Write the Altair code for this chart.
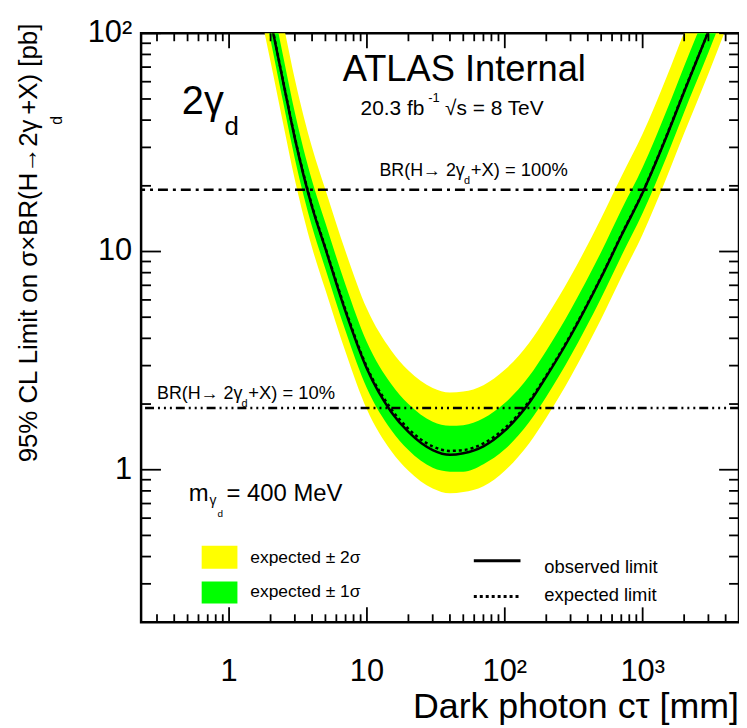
import altair as alt
import pandas as pd

# ---- data ----
ctau = [1.8, 2, 2.5, 3, 4, 5, 7, 10, 15, 20, 30, 40, 50, 70, 100, 150, 200, 300, 500, 700, 1000, 1500, 2000, 3000, 4000, 5000]
observed = [158, 115, 57.5, 33, 16, 10.3, 5.3, 2.9, 1.84, 1.49, 1.23, 1.17, 1.19, 1.28, 1.51, 2.02, 2.67, 4.1, 7.6, 11.8, 18.6, 34, 54, 102, 162, 232]
expected = [160, 116, 58, 33.3, 16.2, 10.4, 5.4, 2.95, 1.9, 1.54, 1.28, 1.22, 1.23, 1.32, 1.55, 2.06, 2.7, 4.15, 7.65, 11.9, 18.7, 34.3, 54.4, 102, 163, 232]
minus2 = [102, 74, 37, 21.3, 10.4, 6.66, 3.46, 1.89, 1.22, 0.99, 0.82, 0.78, 0.79, 0.84, 0.99, 1.32, 1.73, 2.66, 4.90, 7.62, 12.0, 22.0, 34.8, 65.3, 104, 148]
plus2 = [296, 215, 107, 61.6, 30.0, 19.2, 10.0, 5.46, 3.52, 2.85, 2.37, 2.26, 2.28, 2.44, 2.87, 3.81, 5.0, 7.68, 14.2, 22.0, 34.6, 63.5, 101, 189, 302, 429]
minus1 = [128, 93, 46.4, 26.6, 13.0, 8.32, 4.32, 2.36, 1.52, 1.23, 1.02, 0.98, 0.98, 1.06, 1.24, 1.65, 2.16, 3.32, 6.12, 9.52, 15.0, 27.4, 43.5, 81.6, 130, 186]
plus1 = [208, 151, 75.4, 43.3, 21.1, 13.5, 7.02, 3.84, 2.47, 2.0, 1.66, 1.59, 1.60, 1.72, 2.02, 2.68, 3.51, 5.40, 9.95, 15.5, 24.3, 44.6, 70.7, 133, 212, 302]

br_100 = [19.2]
br_10 = [1.92]

x_major = [1, 10, 100, 1000]
x_labels = ["1", "10", "10²", "10³"]
y_major = [1, 10, 100]
y_labels = ["1", "10", "10²"]
x_minor = [m * 10.0 ** e for e in range(-1, 4) for m in range(2, 10) if 0.23 < m * 10.0 ** e < 4999]
y_minor = [m * 10.0 ** e for e in range(-1, 2) for m in range(2, 10) if 0.21 < m * 10.0 ** e < 99]

W, H = 602, 593
FONT = "Liberation Sans"

df = pd.DataFrame({"x": ctau, "obs": observed, "exp": expected,
                   "m2": minus2, "p2": plus2, "m1": minus1, "p1": plus1})
one = pd.DataFrame({"a": [0]})

xs = alt.Scale(type="log", domain=[0.23, 5000], nice=False)
ys = alt.Scale(type="log", domain=[0.2, 100], nice=False)


def X(field):
    return alt.X(field, scale=xs, axis=None)


def Y(field):
    return alt.Y(field, scale=ys, axis=None)


yellow = alt.Chart(df).mark_area(color="#FFFF00", clip=True, interpolate="monotone").encode(
    x=X("x:Q"), y=Y("m2:Q"), y2="p2:Q")
green = alt.Chart(df).mark_area(color="#00FF00", clip=True, interpolate="monotone").encode(
    x=X("x:Q"), y=Y("m1:Q"), y2="p1:Q")
exp_line = alt.Chart(df).mark_line(color="black", strokeWidth=2.5, strokeDash=[3, 3], clip=True,
                                   interpolate="monotone").encode(x=X("x:Q"), y=Y("exp:Q"))
obs_line = alt.Chart(df).mark_line(color="black", strokeWidth=2.5, clip=True,
                                   interpolate="monotone").encode(x=X("x:Q"), y=Y("obs:Q"))

r100 = alt.Chart(pd.DataFrame({"v": br_100})).mark_rule(
    color="black", strokeWidth=2.5, strokeDash=[10, 5, 3, 5]).encode(y=Y("v:Q"))
r10 = alt.Chart(pd.DataFrame({"v": br_10})).mark_rule(
    color="black", strokeWidth=2.5, strokeDash=[9, 4, 2, 4, 2, 4, 2, 4]).encode(y=Y("v:Q"))


def xticks(vals, length):
    d = pd.DataFrame({"v": vals})
    bot = alt.Chart(d).mark_rule(color="black", strokeWidth=1.8).encode(
        x=X("v:Q"), y=alt.value(H), y2=alt.value(H - length))
    top = alt.Chart(d).mark_rule(color="black", strokeWidth=1.8).encode(
        x=X("v:Q"), y=alt.value(0), y2=alt.value(length))
    return [bot, top]


def yticks(vals, length):
    d = pd.DataFrame({"v": vals})
    left = alt.Chart(d).mark_rule(color="black", strokeWidth=1.8).encode(
        y=Y("v:Q"), x=alt.value(0), x2=alt.value(length))
    right = alt.Chart(d).mark_rule(color="black", strokeWidth=1.8).encode(
        y=Y("v:Q"), x=alt.value(W), x2=alt.value(W - length))
    return [left, right]


x_tick_labels = alt.Chart(pd.DataFrame({"v": x_major, "lab": x_labels})).mark_text(
    font=FONT, fontSize=31, align="center", baseline="alphabetic", color="black").encode(
    x=X("v:Q"), y=alt.value(H + 59), text="lab:N")
y_tick_labels = alt.Chart(pd.DataFrame({"v": y_major, "lab": y_labels})).mark_text(
    font=FONT, fontSize=31, align="right", baseline="middle", color="black").encode(
    y=Y("v:Q"), x=alt.value(-9), text="lab:N")


def txt(s, x, y, size, align="left", baseline="alphabetic", angle=0):
    kw = dict(text=s, font=FONT, fontSize=size, align=align, baseline=baseline, color="black")
    if angle:
        kw["angle"] = angle
    return alt.Chart(one).mark_text(**kw).encode(x=alt.value(x), y=alt.value(y))


def box(x1, x2, y1, y2, color):
    return alt.Chart(one).mark_rect(color=color).encode(
        x=alt.value(x1), x2=alt.value(x2), y=alt.value(y1), y2=alt.value(y2))


def hline(x1, x2, y, dash):
    kw = dict(color="black", strokeWidth=3)
    if dash:
        kw["strokeDash"] = dash
    return alt.Chart(one).mark_rule(**kw).encode(
        x=alt.value(x1), x2=alt.value(x2), y=alt.value(y))


texts = [
    txt("ATLAS Internal", 203, 48, 36.5),
    txt("20.3 fb", 221, 82, 21),
    txt("-1", 289, 69, 13),
    txt("√s = 8 TeV", 306, 82, 21),
    txt("2γ", 41, 81, 40),
    txt("d", 84, 102, 26),
    txt("BR(H→ 2γ", 240, 144, 18),
    txt("d", 325, 152, 11),
    txt("+X) = 100%", 332, 144, 18.5),
    txt("BR(H→ 2γ", 16, 368, 18),
    txt("d", 101, 376, 11),
    txt("+X) = 10%", 108, 368, 18.5),
    txt("m", 48, 471, 24),
    txt("γ", 69, 475, 14),
    txt("d", 77, 487, 10),
    txt("= 400 MeV", 86, 471, 24),
    # y-axis title
    txt("95% CL Limit on σ×BR(H→2γ", -105, 432, 26, angle=270),
    txt("d", -80, 92, 16, angle=270),
    txt("+X) [pb]", -105, 82, 26, angle=270),
    # x-axis title
    txt("Dark photon cτ [mm]", W, H + 96, 36, align="right"),
]

legend = [
    box(61, 97, 516, 539, "#FFFF00"),
    box(61, 97, 552, 574, "#00FF00"),
    txt("expected ± 2σ", 110, 528, 17.5, baseline="middle"),
    txt("expected ± 1σ", 110, 563, 17.5, baseline="middle"),
    hline(335, 382, 531, None),
    hline(335, 382, 567, [3, 3]),
    txt("observed limit", 406, 537, 18.5, baseline="middle"),
    txt("expected limit", 406, 566, 18.5, baseline="middle"),
]

layers = ([yellow, green, exp_line, obs_line, r100, r10]
          + xticks(x_major, 15) + xticks(x_minor, 8)
          + yticks(y_major, 20) + yticks(y_minor, 10)
          + [x_tick_labels, y_tick_labels]
          + texts + legend)

chart = alt.layer(*layers).properties(
    width=W, height=H,
    autosize=alt.AutoSizeParams(type="none"),
    padding={"left": 134, "top": 23, "right": 0, "bottom": 104},
).configure_view(stroke="black", strokeWidth=2.5)

chart.save("out.html", embed_options={"renderer": "svg", "actions": False})
